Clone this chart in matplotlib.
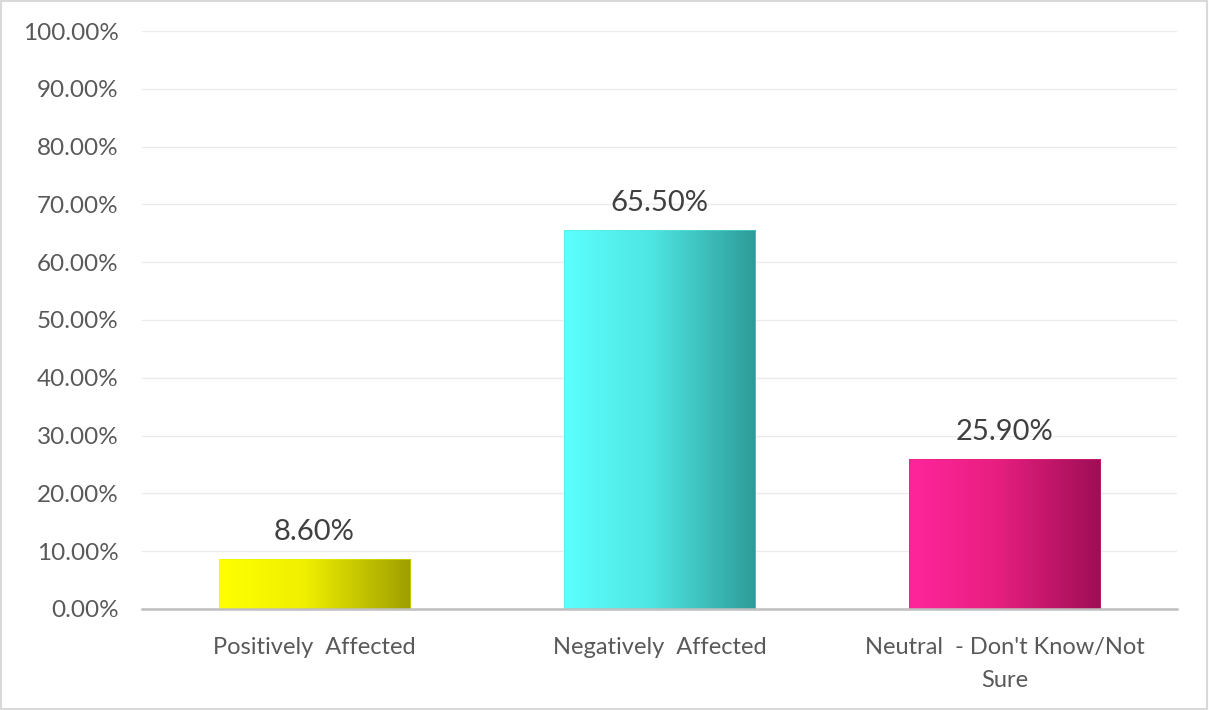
import matplotlib.pyplot as plt
import numpy as np
from matplotlib.colors import LinearSegmentedColormap
from matplotlib.patches import Rectangle

plt.rcParams['font.family'] = ['Lato', 'DejaVu Sans']

# Survey responses
categories = ["Positively  Affected", "Negatively  Affected", "Neutral  - Don't Know/Not\nSure"]
values = [8.60, 65.50, 25.90]
yticks = np.arange(0, 101, 10)

# left (light) -> right (dark) gradient colours per bar
grad_colors = [
    ("#FFFF00", "#EFEF00", "#9E9E00"),
    ("#5CFFFF", "#4EE6E3", "#2E9B98"),
    ("#FF259C", "#E81F80", "#9E0E55"),
]

fig = plt.figure(figsize=(12.09, 7.10), dpi=100)
ax = fig.add_axes([0.1175, 0.1423, 0.856, 0.814])

x = np.arange(len(categories))
width = 0.555
ax.set_xlim(-0.5, len(categories) - 0.5)
ax.set_ylim(0, 100)

grad = np.linspace(0, 1, 256).reshape(1, -1)
for xi, v, cols in zip(x, values, grad_colors):
    cmap = LinearSegmentedColormap.from_list("g", [(0, cols[0]), (0.45, cols[1]), (1, cols[2])])
    ax.imshow(grad, cmap=cmap, aspect='auto', extent=(xi - width / 2, xi + width / 2, 0, v),
              zorder=2, interpolation='bilinear')
    ax.add_patch(Rectangle((xi - width / 2, 0), width, v, fill=False,
                           edgecolor=cols[1], linewidth=0.6, alpha=0.6, zorder=3))
    ax.text(xi, v + 2.5, f"{v:.2f}%", ha='center', va='bottom', fontsize=21, color='#404040')

ax.set_yticks(yticks)
ax.set_yticklabels([f"{t:.2f}%" for t in yticks], fontsize=17.5, color='#595959')
ax.set_xticks(x)
ax.set_xticklabels(categories, fontsize=17, color='#595959', linespacing=1.72)
ax.tick_params(axis='both', length=0)
ax.tick_params(axis='y', pad=17)
ax.tick_params(axis='x', pad=20)

ax.grid(axis='y', color='#EBEBEB', linewidth=1, zorder=0)
ax.set_axisbelow(True)
for side in ['top', 'right', 'left']:
    ax.spines[side].set_visible(False)
ax.spines['bottom'].set_color('#BFBFBF')
ax.spines['bottom'].set_linewidth(1.8)
ax.spines['bottom'].set_zorder(4)

# outer chart border
fig.patches.append(Rectangle((0.001, 0.002), 0.997, 0.996, transform=fig.transFigure,
                             fill=False, edgecolor='#D9D9D9', linewidth=1.5))

fig.savefig("out.png", dpi=100)
